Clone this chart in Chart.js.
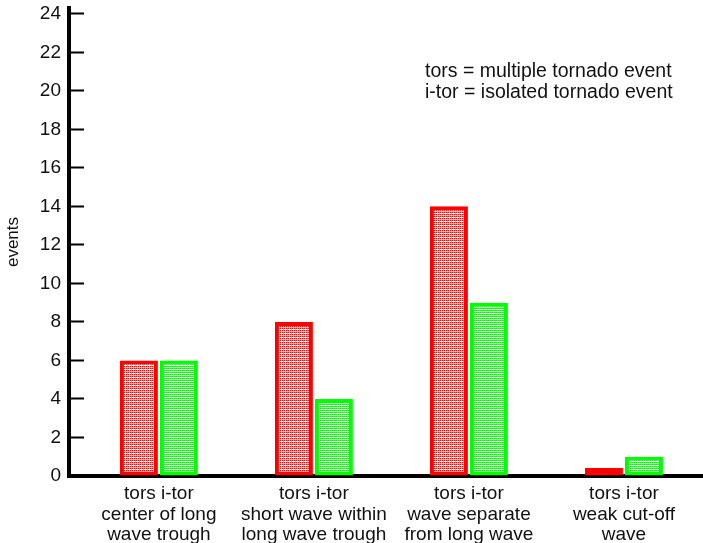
<!DOCTYPE html>
<html>
<head>
<meta charset="utf-8">
<script src="https://cdn.jsdelivr.net/npm/chart.js@4/dist/chart.umd.min.js"></script>
<style>
  html, body { margin: 0; padding: 0; background: #fff; }
  canvas { display: block; }
</style>
</head>
<body>
<canvas id="chart" width="703" height="543"></canvas>
<script>
var seriesNames = ['tors', 'i-tor'];
var categories = [
    ['center of long', 'wave trough'],
    ['short wave within', 'long wave trough'],
    ['wave separate', 'from long wave'],
    ['weak cut-off', 'wave']
];
var torsValues = [6, 8, 14, 0];
var itorValues = [6, 4, 9, 1];
var yTicks = [0, 2, 4, 6, 8, 10, 12, 14, 16, 18, 20, 22, 24];
var noteLines = ['tors = multiple tornado event', 'i-tor = isolated tornado event'];
var yTitle = 'events';

var FONT = '"Liberation Sans", Arial, sans-serif';

var ctx = document.getElementById('chart').getContext('2d');

// small cross-hatch tile used as bar fill
function hatch(color) {
    var c = document.createElement('canvas');
    c.width = 4;
    c.height = 4;
    var g = c.getContext('2d');
    g.fillStyle = color;
    g.fillRect(0, 0, 4, 4);
    g.fillStyle = 'rgba(255,255,255,0.65)';
    g.fillRect(3, 0, 1, 4);
    g.fillRect(0, 3, 4, 1);
    g.fillStyle = '#ffffff';
    g.fillRect(1, 0, 1, 3);
    g.fillRect(0, 1, 3, 1);
    return ctx.createPattern(c, 'repeat');
}

var notePlugin = {
    id: 'note',
    afterDraw: function (chart) {
        var c = chart.ctx;
        c.save();
        c.font = '19.5px ' + FONT;
        c.fillStyle = '#111';
        c.textAlign = 'left';
        c.textBaseline = 'middle';
        noteLines.forEach(function (t, i) {
            c.fillText(t, 425, 72 + i * 21);
        });
        c.restore();
    }
};

var chart = new Chart(ctx, {
    type: 'bar',
    data: {
        labels: categories.map(function (c, i) { return i; }),
        datasets: [{
            label: seriesNames[0],
            data: torsValues,
            backgroundColor: hatch('#ff0000'),
            borderColor: '#ff0000',
            borderWidth: 4,
            borderSkipped: false,
            minBarLength: 8,
            barPercentage: 0.95,
            categoryPercentage: 0.516
        }, {
            label: seriesNames[1],
            data: itorValues,
            backgroundColor: hatch('#00ff00'),
            borderColor: '#00ff00',
            borderWidth: 4,
            borderSkipped: false,
            minBarLength: 8,
            barPercentage: 0.95,
            categoryPercentage: 0.516
        }]
    },
    plugins: [notePlugin],
    options: {
        responsive: false,
        animation: false,
        layout: { padding: { top: 0, right: 0, left: 0, bottom: 0 } },
        plugins: {
            legend: { display: false },
            tooltip: { enabled: false }
        },
        scales: {
            x: {
                type: 'linear',
                offset: false,
                min: -0.58,
                max: 3.51,
                z: 1,
                grid: { display: false },
                border: { display: true, color: '#000', width: 4 },
                afterBuildTicks: function (s) {
                    s.ticks = categories.map(function (c, i) { return { value: i }; });
                },
                afterFit: function (s) { s.height = 67; },
                ticks: {
                    autoSkip: false,
                    maxRotation: 0,
                    padding: 0,
                    color: '#111',
                    font: { family: FONT, size: 19, lineHeight: 1.07 },
                    callback: function (v) {
                        var cat = categories[v];
                        if (!cat) return '';
                        return [seriesNames.join(' ')].concat(cat);
                    }
                }
            },
            y: {
                min: 0,
                max: 24.3,
                z: 1,
                grid: {
                    drawOnChartArea: false,
                    drawTicks: true,
                    tickLength: -15,
                    tickColor: '#000',
                    tickWidth: 2
                },
                border: { display: true, color: '#000', width: 4 },
                afterBuildTicks: function (s) {
                    s.ticks = yTicks.map(function (v) { return { value: v }; });
                },
                afterFit: function (s) {
                    s.width = 69;
                    s.paddingTop = 8;
                    s.paddingBottom = 0;
                },
                title: {
                    display: true,
                    text: yTitle,
                    color: '#111',
                    padding: { top: 3, bottom: 0 },
                    font: { family: FONT, size: 17 }
                },
                ticks: {
                    padding: 23,
                    color: '#111',
                    font: { family: FONT, size: 19, lineHeight: 1 }
                }
            }
        }
    }
});
</script>
</body>
</html>
